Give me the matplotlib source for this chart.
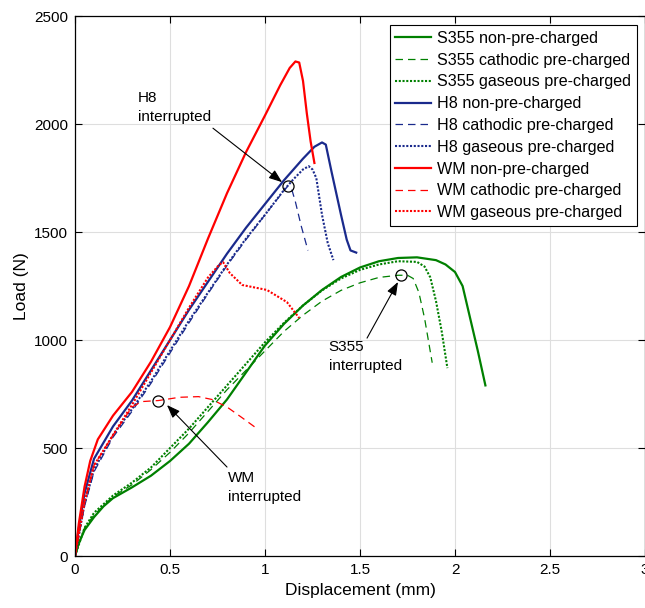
import matplotlib
matplotlib.use("Agg")
import matplotlib.pyplot as plt

plt.rcParams['font.family'] = ['Liberation Sans', 'DejaVu Sans']

# ---------------- data ----------------
s355_non_x = [0, 0.02, 0.05, 0.1, 0.15, 0.2, 0.3, 0.4, 0.5, 0.6, 0.7, 0.8, 0.9, 1.0, 1.1, 1.2,
              1.3, 1.4, 1.5, 1.6, 1.7, 1.8, 1.9, 1.95, 2.0, 2.04, 2.08, 2.12, 2.16]
s355_non_y = [0, 60, 120, 180, 230, 268, 318, 372, 440, 520, 620, 725, 850, 975, 1075, 1160,
              1232, 1292, 1336, 1365, 1380, 1383, 1370, 1350, 1315, 1250, 1100, 950, 790]

s355_cat_x = [0, 0.05, 0.1, 0.2, 0.3, 0.4, 0.5, 0.6, 0.7, 0.8, 0.9, 1.0, 1.1, 1.2, 1.3, 1.4,
              1.5, 1.6, 1.7, 1.75, 1.78, 1.81, 1.84, 1.88]
s355_cat_y = [0, 130, 190, 275, 330, 400, 480, 570, 670, 770, 860, 950, 1040, 1115, 1180, 1230,
              1265, 1290, 1300, 1300, 1285, 1220, 1100, 895]

s355_gas_x = [0, 0.05, 0.1, 0.2, 0.3, 0.4, 0.5, 0.6, 0.7, 0.8, 0.9, 1.0, 1.1, 1.2, 1.3, 1.4,
              1.5, 1.6, 1.7, 1.8, 1.84, 1.87, 1.9, 1.93, 1.96]
s355_gas_y = [0, 130, 200, 280, 340, 410, 500, 590, 690, 790, 890, 990, 1080, 1160, 1230, 1285,
              1325, 1350, 1365, 1362, 1340, 1290, 1180, 1040, 870]

h8_non_x = [0, 0.02, 0.05, 0.1, 0.2, 0.3, 0.4, 0.5, 0.6, 0.7, 0.8, 0.9, 1.0, 1.1, 1.2, 1.26,
            1.3, 1.32, 1.35, 1.4, 1.43, 1.45, 1.48]
h8_non_y = [0, 130, 290, 450, 600, 720, 860, 1000, 1140, 1270, 1400, 1520, 1630, 1740, 1840, 1895,
            1915, 1905, 1780, 1580, 1465, 1415, 1405]

h8_cat_x = [0, 0.05, 0.1, 0.2, 0.3, 0.4, 0.5, 0.6, 0.7, 0.8, 0.9, 1.0, 1.08, 1.12, 1.14, 1.16,
            1.19, 1.226]
h8_cat_y = [0, 230, 390, 550, 670, 800, 940, 1080, 1215, 1345, 1465, 1580, 1670, 1713, 1700, 1640,
            1530, 1415]

h8_gas_x = [0, 0.05, 0.1, 0.2, 0.3, 0.4, 0.5, 0.6, 0.7, 0.8, 0.9, 1.0, 1.1, 1.15, 1.2, 1.23,
            1.25, 1.27, 1.3, 1.33, 1.36]
h8_gas_y = [0, 240, 400, 560, 680, 810, 950, 1090, 1220, 1350, 1470, 1580, 1695, 1745, 1790, 1805,
            1790, 1750, 1580, 1450, 1370]

wm_non_x = [0, 0.02, 0.05, 0.08, 0.12, 0.2, 0.3, 0.4, 0.5, 0.6, 0.7, 0.8, 0.9, 1.0, 1.08, 1.13,
            1.16, 1.18, 1.2, 1.22, 1.24, 1.26]
wm_non_y = [0, 150, 320, 440, 540, 650, 760, 900, 1060, 1250, 1470, 1680, 1870, 2040, 2180, 2260,
            2290, 2285, 2200, 2050, 1920, 1820]

wm_cat_x = [0, 0.05, 0.1, 0.2, 0.3, 0.35, 0.44, 0.55, 0.65, 0.72, 0.8, 0.88, 0.95]
wm_cat_y = [0, 250, 420, 560, 690, 715, 720, 735, 738, 725, 690, 640, 595]

wm_gas_x = [0, 0.05, 0.1, 0.2, 0.3, 0.4, 0.5, 0.6, 0.7, 0.76, 0.78, 0.815, 0.88, 1.01, 1.115, 1.18]
wm_gas_y = [0, 250, 420, 560, 700, 850, 1000, 1150, 1290, 1350, 1360, 1310, 1255, 1232, 1176, 1102]

interrupt_x = [1.12, 1.716, 0.437]
interrupt_y = [1713, 1301, 717]

x_ticks = [0, 0.5, 1, 1.5, 2, 2.5, 3]
y_ticks = [0, 500, 1000, 1500, 2000, 2500]

# ---------------- figure ----------------
fig = plt.figure(figsize=(6.45, 6.08), dpi=100)
ax = fig.add_axes([0.1163, 0.0855, 0.8837, 0.888])

green = '#008000'
blue = '#1a2a8c'
red = '#ff0000'

ax.plot(s355_non_x, s355_non_y, color=green, lw=1.6, ls='-', label='S355 non-pre-charged')
ax.plot(s355_cat_x, s355_cat_y, color=green, lw=0.9, ls=(0, (6, 4)), label='S355 cathodic pre-charged')
ax.plot(s355_gas_x, s355_gas_y, color=green, lw=1.5, ls=(0, (1, 0.8)), label='S355 gaseous pre-charged')
ax.plot(h8_non_x, h8_non_y, color=blue, lw=1.6, ls='-', label='H8 non-pre-charged')
ax.plot(h8_cat_x, h8_cat_y, color=blue, lw=0.9, ls=(0, (6, 4)), label='H8 cathodic pre-charged')
ax.plot(h8_gas_x, h8_gas_y, color=blue, lw=1.5, ls=(0, (1, 0.8)), label='H8 gaseous pre-charged')
ax.plot(wm_non_x, wm_non_y, color=red, lw=1.6, ls='-', label='WM non-pre-charged')
ax.plot(wm_cat_x, wm_cat_y, color=red, lw=0.9, ls=(0, (6, 4)), label='WM cathodic pre-charged')
ax.plot(wm_gas_x, wm_gas_y, color=red, lw=1.5, ls=(0, (1, 0.8)), label='WM gaseous pre-charged')

ax.plot(interrupt_x, interrupt_y, ls='none', marker='o', ms=8, mfc='none', mec='black', mew=0.9)

arrow = dict(arrowstyle='-|>,head_length=0.8,head_width=0.3', color='black', lw=0.8,
             shrinkA=0, shrinkB=0)
# arrows
ax.annotate('', xy=(1.09, 1731), xytext=(0.726, 1981), arrowprops=arrow)
ax.annotate('', xy=(1.70, 1269), xytext=(1.537, 1009), arrowprops=arrow)
ax.annotate('', xy=(0.484, 699), xytext=(0.8, 412), arrowprops=arrow)
# annotation texts (left aligned, top anchored)
ax.text(0.33, 2155, 'H8\ninterrupted', fontsize=11, ha='left', va='top', linespacing=1.45)
ax.text(1.335, 1000, 'S355\ninterrupted', fontsize=11, ha='left', va='top', linespacing=1.45)
ax.text(0.805, 395, 'WM\ninterrupted', fontsize=11, ha='left', va='top', linespacing=1.45)

ax.set_xlim(0, 3)
ax.set_ylim(0, 2500)
ax.set_xticks(x_ticks)
ax.set_xticklabels(['0', '0.5', '1', '1.5', '2', '2.5', '3'])
ax.set_yticks(y_ticks)
ax.grid(True, color='#dedede', lw=0.8)
ax.set_axisbelow(True)
ax.tick_params(direction='in', top=True, right=True, length=5, width=0.8, labelsize=11, pad=5)
for s in ax.spines.values():
    s.set_linewidth(0.9)

ax.set_xlabel('Displacement (mm)', fontsize=12.5, labelpad=4)
ax.set_ylabel('Load (N)', fontsize=12.5, labelpad=4)

leg = ax.legend(loc='upper right', bbox_to_anchor=(0.986, 0.983), fontsize=11.6, frameon=True,
                fancybox=False, edgecolor='black', framealpha=1, handlelength=2.2,
                borderpad=0.35, labelspacing=0.42, handletextpad=0.4, borderaxespad=0)
leg.get_frame().set_linewidth(0.8)

fig.savefig('out.png', dpi=100)
